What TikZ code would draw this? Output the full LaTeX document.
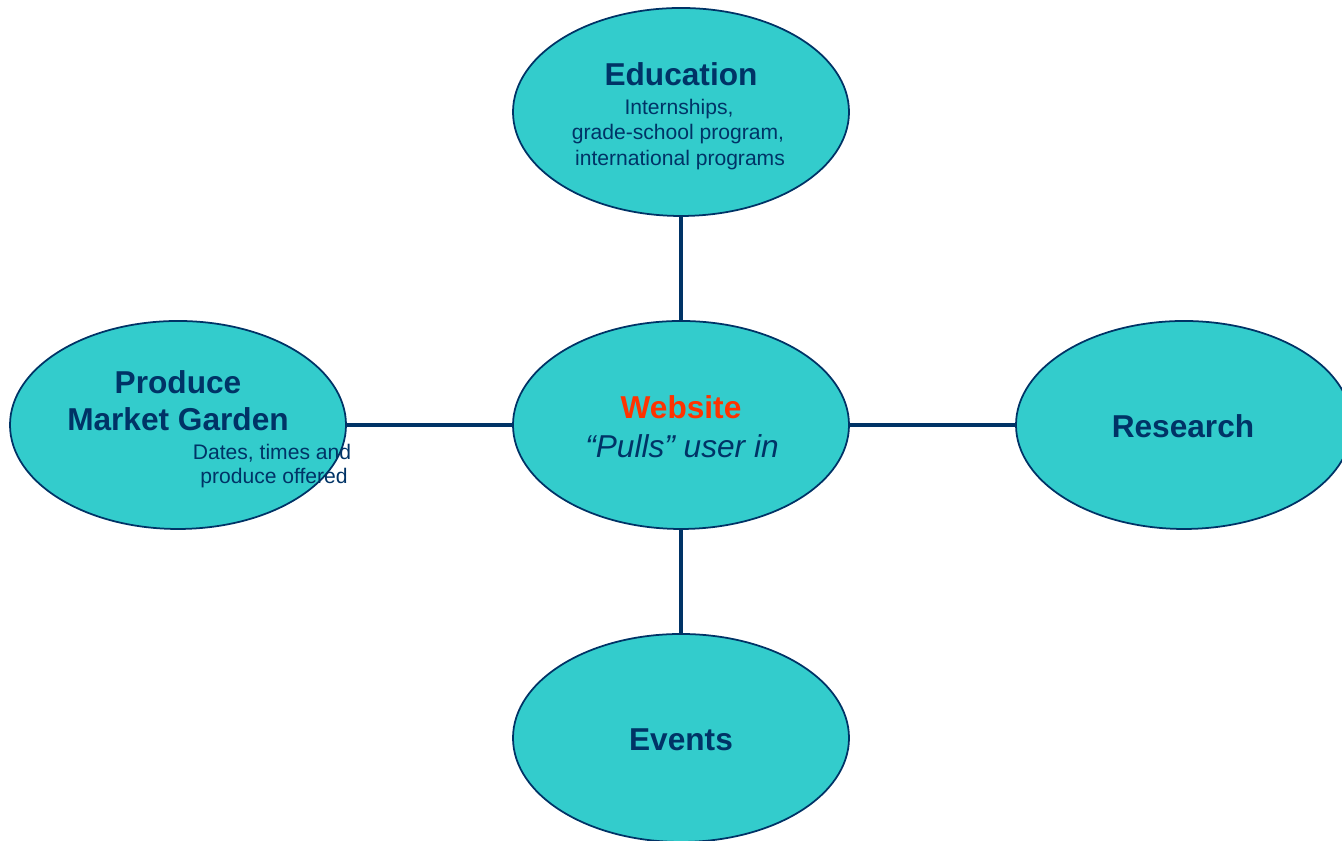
\documentclass[tikz,border=0pt]{standalone}
\usepackage{fontspec}
\setmainfont{Liberation Sans}
\usetikzlibrary{shapes.geometric}
\definecolor{bubblefill}{HTML}{33CCCC}
\definecolor{darknavy}{HTML}{003366}
\definecolor{webred}{HTML}{FF3300}
\tikzset{
  bubble/.style={ellipse, draw=darknavy, line width=0.5pt, fill=bubblefill,
    minimum width=3.36cm, minimum height=2.08cm, inner sep=0pt},
  link/.style={draw=darknavy, line width=1.4pt},
  title/.style={font=\fontsize{9}{11}\selectfont\bfseries, text=darknavy, anchor=base, inner sep=0pt},
  small/.style={font=\fontsize{6}{7}\selectfont, text=darknavy, anchor=base, inner sep=0pt}
}
\begin{document}
\begin{tikzpicture}
        \useasboundingbox (0,0) rectangle (13.42,8.41);
        \node[bubble] (web) at (6.81,4.16) {};
        \node[bubble] (edu) at (6.81,7.29) {};
        \node[bubble] (prod) at (1.78,4.16) {};
        \node[bubble] (res) at (11.84,4.16) {};
        \node[bubble] (ev) at (6.81,1.03) {};
        \draw[link] (web) -- (edu);
        \draw[link] (web) -- (prod);
        \draw[link] (web) -- (res);
        \draw[link] (web) -- (ev);
        % texts
        \node[title] (eduT) at (6.81,7.55) {Education};
        \node[small] (eduA) at (6.79,7.26) {Internships,};
        \node[small] (eduB) at (6.78,7.01) {grade-school program,};
        \node[small] (eduC) at (6.80,6.75) {international programs};
        \node[title, text=webred] (webT) at (6.81,4.22) {Website};
        \node[title, font=\fontsize{9}{11}\selectfont\itshape] (webA) at (6.82,3.83) {“Pulls” user in};
        \node[title] (prodT) at (1.78,4.47) {Produce};
        \node[title] (prodA) at (1.78,4.10) {Market Garden};
        \node[small] (prodB) at (2.72,3.81) {Dates, times and};
        \node[small] (prodC) at (2.74,3.57) {produce offered};
        \node[title] (resT) at (11.83,4.03) {Research};
        \node[title] (evT) at (6.81,0.90) {Events};
      \end{tikzpicture}
\end{document}
